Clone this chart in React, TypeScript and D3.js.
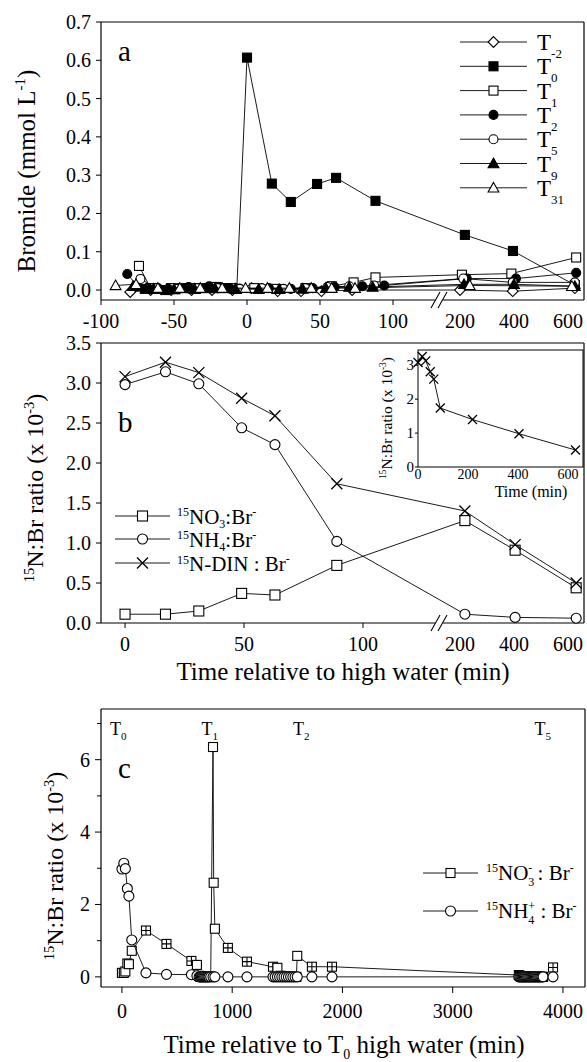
import React from "react";
import * as d3 from "d3";

const FONT = "'Liberation Serif','Times New Roman',Times,serif";

// ---------------- Panel a : bromide ----------------
const aXTicks = [-100, -50, 0, 50, 100, 200, 400, 600];
const aYTicks = [0, 0.1, 0.2, 0.3, 0.4, 0.5, 0.6, 0.7];
const aLegendSubs = ["-2", "0", "1", "2", "5", "9", "31"];

const aTm2Time = [-80, -66, -52, -38, -24, -10, 3, 21, 37, 51, 72, 200, 395, 625];
const aTm2Val = [-0.005, 0.0, 0.0, 0.0, 0.0, 0.0, 0.005, -0.003, -0.003, -0.003, 0.0, 0.0, -0.003, 0.005];

const aT0Time = [-70, -63, -56, -49, -42, -35, -28, -21, -14, -7, 0, 17, 30, 48, 61, 88, 218, 396, 625];
const aT0Val = [0.003, 0.003, 0.0, 0.002, 0.005, 0.003, 0.005, 0.008, 0.005, 0.003, 0.607, 0.278, 0.23, 0.277, 0.293, 0.233, 0.144, 0.102, 0.013];

const aT1Time = [-74, -66, -52, -38, -24, -10, 5, 20, 40, 58, 73, 88, 207, 390, 630];
const aT1Val = [0.063, 0.005, 0.005, 0.005, 0.008, 0.005, 0.005, 0.003, 0.005, 0.01, 0.02, 0.033, 0.04, 0.043, 0.085];

const aT2Time = [-82, -75, -68, -61, -54, -47, -40, -33, -26, -19, -12, -5, 15, 30, 45, 60, 79, 94, 225, 407, 630];
const aT2Val = [0.042, 0.01, 0.005, 0.005, 0.003, 0.005, 0.008, 0.005, 0.01, 0.008, 0.005, 0.003, 0.005, 0.003, 0.005, 0.008, 0.01, 0.012, 0.03, 0.03, 0.045];

const aT5Time = [-73, -62, -48, -34, -20, -5, 10, 25, 40, 55, 70, 87, 212, 395, 625];
const aT5Val = [0.029, 0.005, 0.003, 0.005, 0.005, 0.003, 0.005, 0.003, 0.005, 0.008, 0.01, 0.012, 0.03, 0.02, 0.02];

const aT9Time = [-78, -64, -50, -36, -22, -8, 8, 22, 38, 54, 70, 86, 215, 400, 625];
const aT9Val = [0.01, 0.003, 0.002, 0.003, 0.004, 0.003, 0.002, 0.002, 0.003, 0.005, 0.008, 0.008, 0.015, 0.015, 0.01];

const aT31Time = [-90, -76, -61, -46, -32, -17, -1, 14, 29, 44, 58, 74, 236, 614];
const aT31Val = [0.012, 0.015, 0.005, 0.005, 0.005, 0.005, 0.005, 0.005, 0.005, 0.005, 0.005, 0.005, 0.012, 0.01];

// ---------------- Panel b : 15N:Br ratio ----------------
const bXTicks = [0, 50, 100, 200, 400, 600];
const bYTicks = [0, 0.5, 1.0, 1.5, 2.0, 2.5, 3.0, 3.5];
const bTime = [0, 17, 31, 49, 63, 89, 218, 404, 630];
const bNo3 = [0.11, 0.11, 0.15, 0.37, 0.35, 0.72, 1.28, 0.91, 0.44];
const bNh4 = [2.98, 3.14, 2.99, 2.44, 2.23, 1.02, 0.11, 0.07, 0.06];
const bDin = [3.08, 3.26, 3.13, 2.81, 2.59, 1.74, 1.40, 0.98, 0.50];
const insetXTicks = [0, 200, 400, 600];
const insetYTicks = [0, 1, 2, 3];

// ---------------- Panel c : long series ----------------
const cXTicks = [0, 1000, 2000, 3000, 4000];
const cYTicks = [0, 2, 4, 6];
const cYMinor = [1, 3, 5, 7];
const cTideTimes = [0, 830, 1660, 3850];
const cTideNames = ["0", "1", "2", "5"];

const cNo3Time = [0, 17, 31, 49, 63, 89, 218, 404, 630, 680, 700, 710, 720, 730, 740, 750, 760, 770, 780, 790, 805,
  826, 832, 843, 961, 1134, 1370, 1410, 1440, 1450, 1460, 1470, 1480, 1490, 1500, 1510, 1520, 1530, 1540, 1550, 1560, 1582, 1590,
  1723, 1905, 3600, 3610, 3620, 3630, 3640, 3650, 3660, 3670, 3680, 3690, 3700, 3710, 3720, 3730, 3740, 3750,
  3760, 3770, 3780, 3790, 3800, 3810, 3820, 3910];
const cNo3Val = [0.11, 0.11, 0.15, 0.37, 0.35, 0.72, 1.28, 0.91, 0.44, 0.33, 0.03, 0, 0, 0, 0, 0, 0, 0, 0, 0, 0,
  6.35, 2.6, 1.33, 0.8, 0.42, 0.28, 0.25, 0.03, 0, 0, 0, 0, 0, 0, 0, 0, 0, 0, 0, 0, 0, 0.58,
  0.28, 0.28, 0.05, 0.03, 0.02, 0.01, 0, 0, 0, 0, 0, 0, 0, 0, 0, 0, 0, 0,
  0, 0, 0, 0, 0, 0, 0, 0.26];
const cNo3CrossedTimes = [218, 404, 630, 961, 1134, 1370, 1723, 1905, 3910];

const cNh4Time = [0, 17, 31, 49, 63, 89, 218, 404, 630, 680, 700, 710, 720, 730, 740, 750, 760, 770, 780, 790, 805,
  826, 843, 961, 1134, 1370, 1390, 1410, 1430, 1450, 1470, 1490, 1510, 1530, 1550, 1570,
  1590, 1723, 1905, 3600, 3610, 3620, 3630, 3640, 3650, 3660, 3670, 3680, 3690, 3700, 3710, 3720, 3730, 3740, 3750,
  3760, 3770, 3780, 3790, 3800, 3810, 3820, 3910];
const cNh4Val = [2.98, 3.14, 2.99, 2.44, 2.23, 1.02, 0.11, 0.07, 0.06, 0.03, 0, 0, 0, 0, 0, 0, 0, 0, 0, 0, 0,
  0, 0, 0, 0, 0, 0, 0, 0, 0, 0, 0, 0, 0, 0, 0,
  0, 0, 0, 0, 0, 0, 0, 0, 0, 0, 0, 0, 0, 0, 0, 0, 0, 0, 0,
  0, 0, 0, 0, 0, 0, 0, 0];

// ---------------- helpers ----------------
type Sc = (v: number) => number;

function Mark({ kind, x, y, s }: { kind: string; x: number; y: number; s: number }) {
  const h = s / 2;
  const st = { stroke: "#000", strokeWidth: 1.1 };
  switch (kind) {
    case "square":
      return <rect x={x - h} y={y - h} width={s} height={s} fill="#fff" {...st} />;
    case "squareFilled":
      return <rect x={x - h} y={y - h} width={s} height={s} fill="#000" {...st} />;
    case "squarePlus":
      return (
        <g>
          <rect x={x - h} y={y - h} width={s} height={s} fill="#fff" {...st} />
          <path d={`M${x - h},${y}H${x + h}M${x},${y - h}V${y + h}`} fill="none" {...st} />
        </g>
      );
    case "circle":
      return <circle cx={x} cy={y} r={h} fill="#fff" {...st} />;
    case "circleFilled":
      return <circle cx={x} cy={y} r={h} fill="#000" {...st} />;
    case "diamond": {
      const d = h * 1.2;
      return <path d={`M${x},${y - d}L${x + d},${y}L${x},${y + d}L${x - d},${y}Z`} fill="#fff" {...st} />;
    }
    case "triangle":
    case "triangleFilled": {
      const d = h * 1.2;
      return (
        <path
          d={`M${x},${y - d}L${x + d},${y + d * 0.78}L${x - d},${y + d * 0.78}Z`}
          fill={kind === "triangle" ? "#fff" : "#000"}
          {...st}
        />
      );
    }
    case "times":
      return (
        <path
          d={`M${x - h},${y - h}L${x + h},${y + h}M${x + h},${y - h}L${x - h},${y + h}`}
          fill="none"
          stroke="#000"
          strokeWidth={1.3}
        />
      );
    default:
      return null;
  }
}

function Series({ xs, ys, sx, sy, kind, size, kinds, lw = 0.9 }: {
  xs: number[]; ys: number[]; sx: Sc; sy: Sc; kind: string; size: number; kinds?: string[]; lw?: number;
}) {
  const pts: [number, number][] = xs.map((t, i) => [sx(t), sy(ys[i])]);
  const d = d3.line()(pts) || "";
  return (
    <g>
      <path d={d} fill="none" stroke="#000" strokeWidth={lw} />
      {pts.map((p, i) => (
        <Mark key={i} kind={kinds ? kinds[i] : kind} x={p[0]} y={p[1]} s={size} />
      ))}
    </g>
  );
}

function LegendRow({ x1, x2, y, kind, size }: { x1: number; x2: number; y: number; kind: string; size: number }) {
  return (
    <g>
      <line x1={x1} x2={x2} y1={y} y2={y} stroke="#000" strokeWidth={0.9} />
      <Mark kind={kind} x={(x1 + x2) / 2} y={y} s={size} />
    </g>
  );
}

function Frame({ l, r, t, b, brk }: { l: number; r: number; t: number; b: number; brk?: [number, number] }) {
  const k = { stroke: "#000", strokeWidth: 1.2 };
  return (
    <g>
      <line x1={l} x2={l} y1={t} y2={b} {...k} />
      <line x1={r} x2={r} y1={t} y2={b} {...k} />
      <line x1={l} x2={r} y1={t} y2={t} {...k} />
      {brk ? (
        <g>
          <line x1={l} x2={brk[0]} y1={b} y2={b} {...k} />
          <line x1={brk[1]} x2={r} y1={b} y2={b} {...k} />
          <path
            d={`M${brk[0] - 4},${b + 8}L${brk[0] + 5},${b - 8}M${brk[1] - 5},${b + 8}L${brk[1] + 4},${b - 8}`}
            stroke="#000"
            strokeWidth={1.1}
            fill="none"
          />
        </g>
      ) : (
        <line x1={l} x2={r} y1={b} y2={b} {...k} />
      )}
    </g>
  );
}

const RatioTitle = ({ fs }: { fs: number }) => (
  <>
    <tspan fontSize={fs * 0.6} dy={-fs * 0.38}>15</tspan>
    <tspan dy={fs * 0.38}>N:Br ratio (x 10</tspan>
    <tspan fontSize={fs * 0.6} dy={-fs * 0.38}>-3</tspan>
    <tspan dy={fs * 0.38}>)</tspan>
  </>
);

export default function App() {
  const xA = d3.scaleLinear().domain([-100, 126.7, 144.4, 659]).range([101, 432, 445, 584]);
  const yA = d3.scaleLinear().domain([-0.026, 0.7]).range([300, 22]);
  const xB = d3.scaleLinear().domain([-10.1, 129, 144.4, 659]).range([101, 432, 445, 584]);
  const yB = d3.scaleLinear().domain([0, 3.5]).range([623, 343]);
  const xI = d3.scaleLinear().domain([0, 660]).range([418, 583]);
  const yI = d3.scaleLinear().domain([0, 3.45]).range([467, 350]);
  const xC = d3.scaleLinear().domain([-190, 4200]).range([101, 585]);
  const yC = d3.scaleLinear().domain([-0.28, 7.4]).range([987, 709]);

  const f1 = d3.format(".1f");
  const TICK = 20;

  const aSeries = [
    { xs: aTm2Time, ys: aTm2Val, kind: "diamond" },
    { xs: aT0Time, ys: aT0Val, kind: "squareFilled" },
    { xs: aT1Time, ys: aT1Val, kind: "square" },
    { xs: aT2Time, ys: aT2Val, kind: "circleFilled" },
    { xs: aT5Time, ys: aT5Val, kind: "circle" },
    { xs: aT9Time, ys: aT9Val, kind: "triangleFilled" },
    { xs: aT31Time, ys: aT31Val, kind: "triangle" },
  ];

  const cNo3Kinds = cNo3Time.map((t) => (cNo3CrossedTimes.includes(t) ? "squarePlus" : "square"));

  return (
    <svg
      width={587}
      height={1062}
      style={{ position: "absolute", left: 0, top: 0, background: "#fff" }}
      fontFamily={FONT}
    >
      <rect width={587} height={1062} fill="#fff" />

      {/* ================= Panel a ================= */}
      <Frame l={101} r={584} t={22} b={300} brk={[435, 443]} />
      {aYTicks.map((v) => (
        <g key={v}>
          <line x1={96} x2={101} y1={yA(v)} y2={yA(v)} stroke="#000" />
          <text x={91} y={yA(v) + 7} fontSize={TICK} textAnchor="end">{f1(v)}</text>
        </g>
      ))}
      {aXTicks.map((v) => (
        <g key={v}>
          {v <= 100 && <line x1={xA(v)} x2={xA(v)} y1={300} y2={305} stroke="#000" />}
          <text x={xA(v)} y={328} fontSize={TICK} textAnchor="middle">{String(v)}</text>
        </g>
      ))}
      <text x={118} y={61} fontSize={29}>a</text>
      <text transform="translate(35,171) rotate(-90)" fontSize={25} textAnchor="middle">
        Bromide (mmol L<tspan fontSize={15} dy={-10}>-1</tspan><tspan dy={10}>)</tspan>
      </text>
      {aSeries.map((s, i) => (
        <Series key={i} xs={s.xs} ys={s.ys} sx={xA} sy={yA} kind={s.kind} size={9} />
      ))}
      {aLegendSubs.map((sub, i) => {
        const y = 42 + i * 24.3;
        return (
          <g key={sub}>
            <LegendRow x1={460} x2={527} y={y} kind={aSeries[i].kind} size={9} />
            <text x={537} y={y + 8} fontSize={23}>
              T<tspan fontSize={13} dy={8}>{sub}</tspan>
            </text>
          </g>
        );
      })}

      {/* ================= Panel b ================= */}
      <Frame l={101} r={584} t={343} b={623} brk={[435, 443]} />
      {bYTicks.map((v) => (
        <g key={v}>
          <line x1={96} x2={101} y1={yB(v)} y2={yB(v)} stroke="#000" />
          <text x={91} y={yB(v) + 7} fontSize={TICK} textAnchor="end">{f1(v)}</text>
        </g>
      ))}
      {bXTicks.map((v) => (
        <g key={v}>
          {v <= 100 && <line x1={xB(v)} x2={xB(v)} y1={623} y2={628} stroke="#000" />}
          <text x={xB(v)} y={651} fontSize={TICK} textAnchor="middle">{String(v)}</text>
        </g>
      ))}
      <text x={118} y={432} fontSize={29}>b</text>
      <text transform="translate(43,488) rotate(-90)" fontSize={24} textAnchor="middle">
        <RatioTitle fs={24} />
      </text>
      <text x={343} y={680} fontSize={25} textAnchor="middle">Time relative to high water (min)</text>
      <Series xs={bTime} ys={bNo3} sx={xB} sy={yB} kind="square" size={10} />
      <Series xs={bTime} ys={bNh4} sx={xB} sy={yB} kind="circle" size={10} />
      <Series xs={bTime} ys={bDin} sx={xB} sy={yB} kind="times" size={11} />

      {/* legend b */}
      <LegendRow x1={115} x2={170} y={516} kind="square" size={10} />
      <LegendRow x1={115} x2={170} y={539} kind="circle" size={10} />
      <LegendRow x1={115} x2={170} y={563} kind="times" size={11} />
      <text x={177} y={524} fontSize={21}>
        <tspan fontSize={12} dy={-8}>15</tspan><tspan dy={8}>NO</tspan>
        <tspan fontSize={12} dy={4}>3</tspan><tspan dy={-4}>:Br</tspan>
        <tspan fontSize={12} dy={-8}>-</tspan>
      </text>
      <text x={177} y={547} fontSize={21}>
        <tspan fontSize={12} dy={-8}>15</tspan><tspan dy={8}>NH</tspan>
        <tspan fontSize={12} dy={4}>4</tspan><tspan dy={-4}>:Br</tspan>
        <tspan fontSize={12} dy={-8}>-</tspan>
      </text>
      <text x={177} y={571} fontSize={21}>
        <tspan fontSize={12} dy={-7}>15</tspan><tspan dy={7}>N-DIN : Br</tspan>
        <tspan fontSize={12} dy={-8}>-</tspan>
      </text>

      {/* inset */}
      <rect x={418} y={350} width={165} height={117} fill="#fff" stroke="#000" strokeWidth={1} />
      {insetYTicks.map((v) => (
        <g key={v}>
          <line x1={415} x2={418} y1={yI(v)} y2={yI(v)} stroke="#000" />
          <text x={414} y={yI(v) + 5} fontSize={15} textAnchor="end">{String(v)}</text>
        </g>
      ))}
      {insetXTicks.map((v) => (
        <text key={v} x={xI(v)} y={479} fontSize={14} textAnchor="middle">{String(v)}</text>
      ))}
      <text x={531} y={497} fontSize={16} textAnchor="middle">Time (min)</text>
      <text transform="translate(392,418) rotate(-90)" fontSize={15.5} textAnchor="middle">
        <RatioTitle fs={15.5} />
      </text>
      <Series xs={bTime} ys={bDin} sx={xI} sy={yI} kind="times" size={9} />

      {/* ================= Panel c ================= */}
      <Frame l={101} r={585} t={709} b={987} />
      {cYTicks.map((v) => (
        <g key={v}>
          <line x1={95} x2={101} y1={yC(v)} y2={yC(v)} stroke="#000" />
          <text x={90} y={yC(v) + 7} fontSize={TICK} textAnchor="end">{String(v)}</text>
        </g>
      ))}
      {cYMinor.map((v) => (
        <line key={v} x1={97} x2={101} y1={yC(v)} y2={yC(v)} stroke="#000" />
      ))}
      {cXTicks.map((v) => (
        <g key={v}>
          <line x1={xC(v)} x2={xC(v)} y1={987} y2={993} stroke="#000" />
          <text x={xC(v)} y={1018} fontSize={TICK} textAnchor="middle">{String(v)}</text>
        </g>
      ))}
      <text x={118} y={778} fontSize={29}>c</text>
      <text transform="translate(63,866) rotate(-90)" fontSize={24} textAnchor="middle">
        <RatioTitle fs={24} />
      </text>
      <text x={344} y={1053} fontSize={25} textAnchor="middle">
        Time relative to T<tspan fontSize={14} dy={6}>0</tspan>
        <tspan dy={-6}> high water (min)</tspan>
      </text>
      {cTideTimes.map((t, i) => (
        <text key={t} x={xC(t) - 12} y={735} fontSize={18}>
          T<tspan fontSize={11} dy={5}>{cTideNames[i]}</tspan>
        </text>
      ))}
      <Series xs={cNo3Time} ys={cNo3Val} sx={xC} sy={yC} kind="square" kinds={cNo3Kinds} size={9} />
      <Series xs={cNh4Time} ys={cNh4Val} sx={xC} sy={yC} kind="circle" size={10} />

      {/* legend c */}
      <LegendRow x1={423} x2={478} y={873} kind="square" size={9} />
      <LegendRow x1={423} x2={478} y={911} kind="circle" size={10} />
      <text x={486} y={880} fontSize={21}>
        <tspan fontSize={12} dy={-8}>15</tspan><tspan dy={8}>NO</tspan>
        <tspan fontSize={12} dy={6}>3</tspan>
        <tspan fontSize={12} dx={-6} dy={-14}>-</tspan>
        <tspan dy={8}> : Br</tspan>
        <tspan fontSize={12} dy={-8}>-</tspan>
      </text>
      <text x={486} y={918} fontSize={21}>
        <tspan fontSize={12} dy={-8}>15</tspan><tspan dy={8}>NH</tspan>
        <tspan fontSize={12} dy={6}>4</tspan>
        <tspan fontSize={12} dx={-6} dy={-14}>+</tspan>
        <tspan dy={8}> : Br</tspan>
        <tspan fontSize={12} dy={-8}>-</tspan>
      </text>
    </svg>
  );
}
